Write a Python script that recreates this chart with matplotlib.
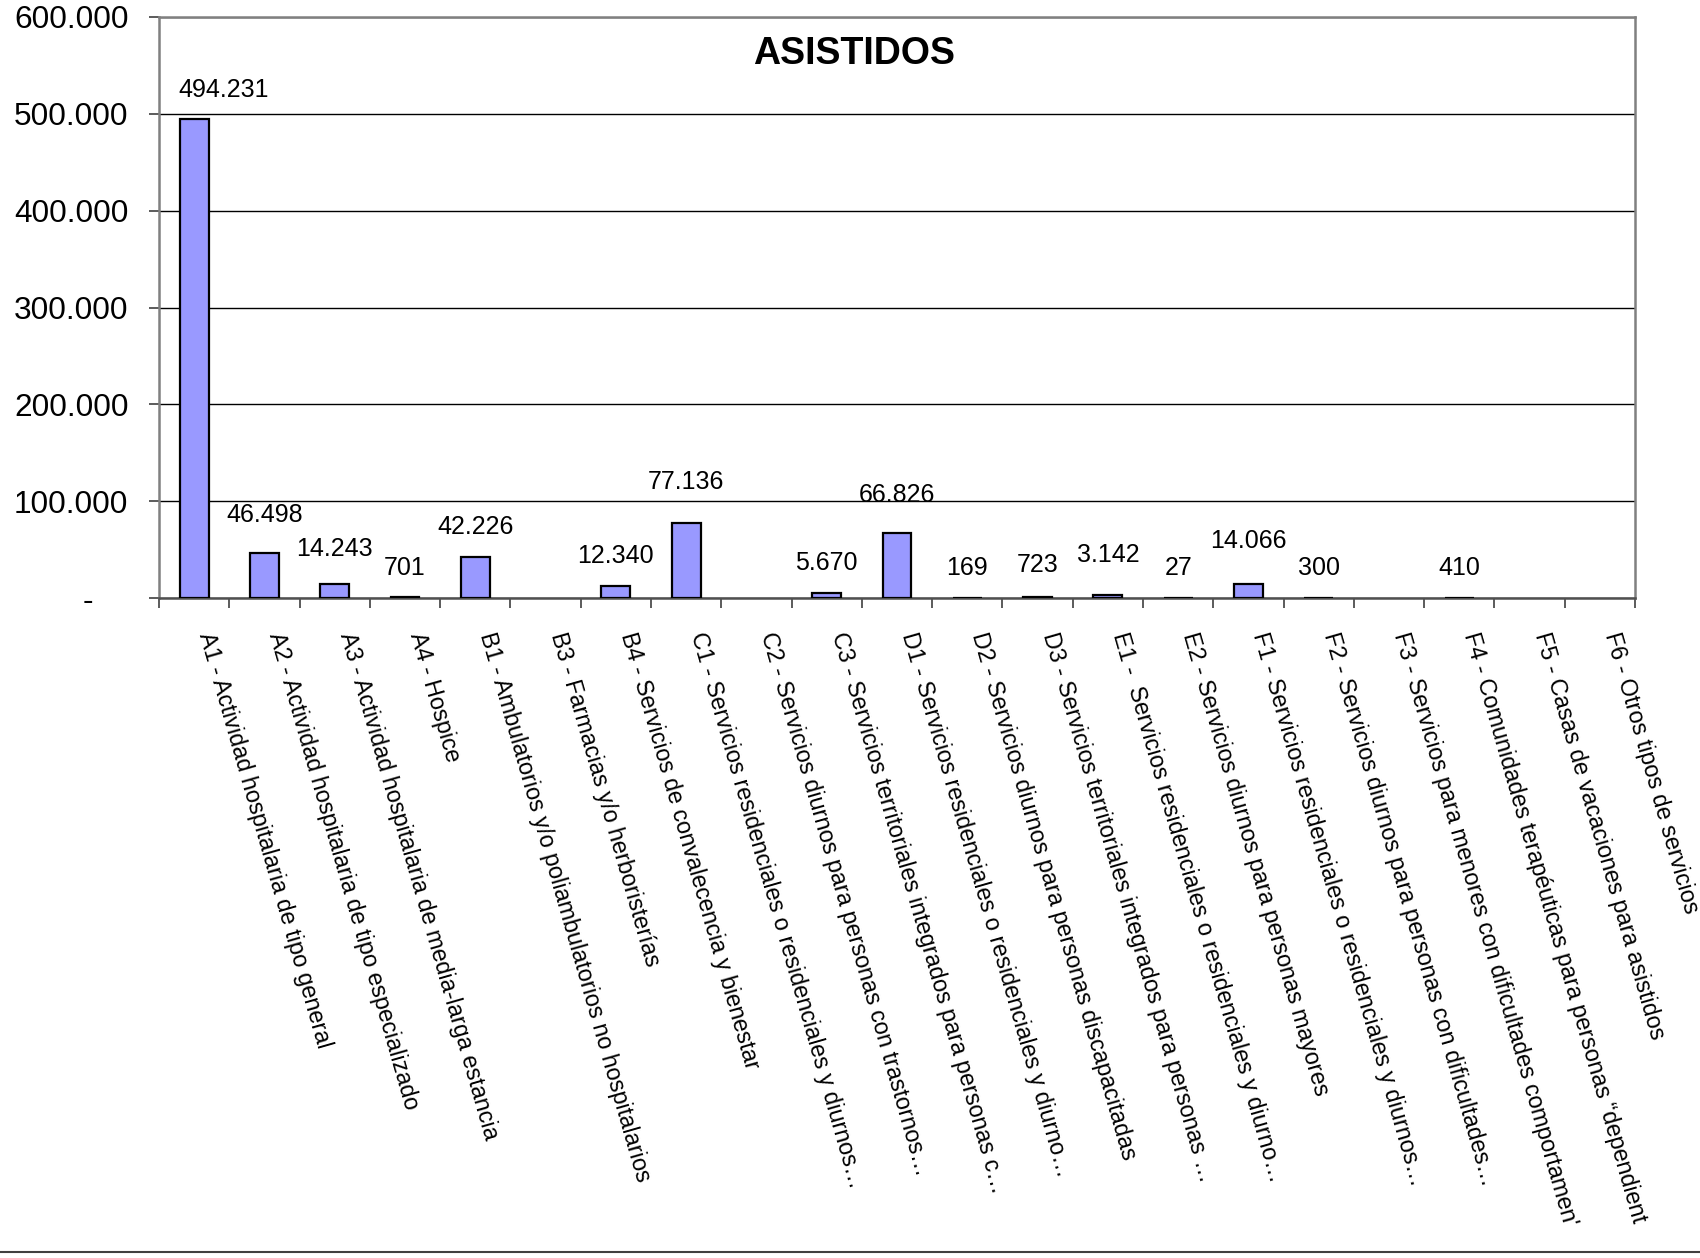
import numpy as np
import matplotlib
matplotlib.use("Agg")
import matplotlib.pyplot as plt
from matplotlib.lines import Line2D
from matplotlib.ticker import FuncFormatter, MultipleLocator

plt.rcParams['font.family'] = ['Liberation Sans', 'DejaVu Sans']

# data (None = no bar)
categories = [
    "A1 - Actividad hospitalaria de tipo general",
    "A2 - Actividad hospitalaria de tipo especializado",
    "A3 - Actividad hospitalaria de media-larga estancia",
    "A4 - Hospice",
    "B1 - Ambulatorios y/o poliambulatorios no hospitalarios",
    "B3 - Farmacias y/o herboristerías",
    "B4 - Servicios de convalecencia y bienestar",
    "C1 - Servicios residenciales o residenciales y diurnos…",
    "C2 - Servicios diurnos para personas con trastornos…",
    "C3 - Servicios territoriales integrados para personas c…",
    "D1 - Servicios residenciales o residenciales y diurno…",
    "D2 - Servicios diurnos para personas discapacitadas",
    "D3 - Servicios territoriales integrados para personas …",
    "E1 -  Servicios residenciales o residenciales y diurno…",
    "E2 - Servicios diurnos para personas mayores",
    "F1 - Servicios residenciales o residenciales y diurnos…",
    "F2 - Servicios diurnos para personas con dificultades…",
    "F3 - Servicios para menores con dificultades comportamen'",
    "F4 - Comunidades terapéuticas para personas “dependient",
    "F5 - Casas de vacaciones para asistidos",
    "F6 - Otros tipos de servicios",
]
values = [494231, 46498, 14243, 701, 42226, None, 12340, 77136, None, 5670,
          66826, 169, 723, 3142, 27, 14066, 300, None, 410, None, None]

# extra lift (points) of some value labels, as placed in the original
label_lift = {1: 6, 2: 4, 7: 8, 10: 6, 12: 2, 13: 7, 15: 10}

fig = plt.figure(figsize=(17, 12.58), dpi=100)
ax = fig.add_axes([0.0935, 0.5246, 0.8683, 0.4619])

x = np.arange(len(categories))
h = np.array([np.nan if v is None else v for v in values], dtype=float)
ax.bar(x, h, width=0.41, color='#9999FF', edgecolor='black', linewidth=1.6, zorder=3)

for i, v in enumerate(values):
    if v is None:
        continue
    dx = 21 if i == 0 else 0
    dy = 21.5 + label_lift.get(i, 0)
    ax.annotate(f"{v:,}".replace(",", "."), (i, v), xytext=(dx, dy),
                textcoords='offset points', ha='center', va='center',
                fontsize=18, zorder=4)

ax.set_xlim(-0.5, len(categories) - 0.5)
ax.set_ylim(0, 600000)
ax.yaxis.set_major_locator(MultipleLocator(100000))
ax.yaxis.set_major_formatter(FuncFormatter(
    lambda v, p: "-    " if v == 0 else f"{int(v):,}".replace(",", ".")))
ax.grid(axis='y', color='black', linewidth=1.0, zorder=0)
ax.set_axisbelow(True)

ax.set_xticks(x)
ax.set_xticks(np.arange(-0.5, len(categories)), minor=True)
ax.set_xticklabels(categories, rotation=-74, ha='left', va='bottom',
                   rotation_mode='anchor', fontsize=16.8)
ax.tick_params(axis='x', which='major', length=0, pad=27)
ax.tick_params(axis='x', which='minor', length=7, width=1.2, color='#404040', direction='out')
ax.tick_params(axis='y', length=7, width=1.2, color='#404040', labelsize=22.7, pad=15)

for s in ['left', 'top', 'right']:
    ax.spines[s].set_color('#808080')
    ax.spines[s].set_linewidth(1.8)
ax.spines['bottom'].set_color('#505050')
ax.spines['bottom'].set_linewidth(1.8)

fig.text(0.5025, 1 - 54 / 1258, "ASISTIDOS", ha='center', va='center',
         fontsize=27, fontweight='bold')

fig.add_artist(Line2D([0, 1], [0.0045, 0.0045], transform=fig.transFigure,
                      color='#404040', linewidth=1.5))

fig.savefig("out.png", dpi=100)
